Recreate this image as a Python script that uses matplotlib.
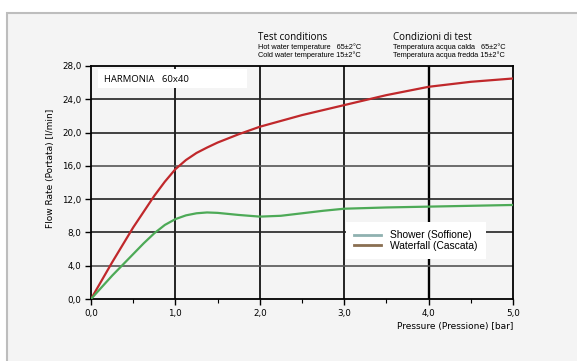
import matplotlib
matplotlib.use("Agg")
import matplotlib.pyplot as plt
from matplotlib.lines import Line2D
from matplotlib.patches import Rectangle

# Data
pressure_shower = [0.0, 0.25, 0.5, 0.625, 0.75, 0.875, 1.0, 1.125, 1.25, 1.375, 1.5, 1.75, 2.0, 2.25, 2.5, 2.75, 3.0, 3.5, 4.0, 4.5, 5.0]
flow_shower = [0.0, 2.8, 5.4, 6.7, 7.9, 8.9, 9.6, 10.05, 10.3, 10.4, 10.35, 10.1, 9.9, 10.0, 10.3, 10.6, 10.85, 11.0, 11.1, 11.2, 11.3]
pressure_waterfall = [0.0, 0.25, 0.5, 0.75, 0.875, 1.0, 1.125, 1.25, 1.375, 1.5, 1.75, 2.0, 2.25, 2.5, 2.75, 3.0, 3.25, 3.5, 3.75, 4.0, 4.5, 5.0]
flow_waterfall = [0.0, 4.4, 8.6, 12.4, 14.1, 15.6, 16.7, 17.55, 18.2, 18.8, 19.8, 20.7, 21.4, 22.1, 22.7, 23.3, 23.9, 24.5, 25.0, 25.5, 26.1, 26.5]
x_ticks = [0, 1, 2, 3, 4, 5]
y_ticks = [0, 4, 8, 12, 16, 20, 24, 28]
legend_labels = ["Shower (Soffione)", "Waterfall (Cascata)"]

BG = "#f4f4f4"
fig = plt.figure(figsize=(5.77, 3.61), dpi=100)
fig.patch.set_facecolor("white")
# panel background with gray border (top/left only visible)
fig.patches.append(Rectangle((7/577, -0.5), 3.0, 1 - 13/361 + 0.5, transform=fig.transFigure,
                             facecolor=BG, edgecolor="#bdbdbd", linewidth=1.5, zorder=-10))

ax = fig.add_axes([91/577, 1 - 299/361, (513 - 91)/577, (299 - 66)/361])
ax.set_facecolor(BG)
ax.set_xlim(0, 5)
ax.set_ylim(0, 28)

for xv in [1, 2, 3, 4]:
    ax.axvline(xv, color="black", lw=1.7 if xv == 4 else 1.2, zorder=1)
for yv in [4, 8, 12, 16, 20, 24]:
    ax.axhline(yv, color="#555555" if yv in (4, 16) else "#222222", lw=1.2, zorder=1)

ax.plot(pressure_waterfall, flow_waterfall, color="#c0282b", lw=1.6, zorder=3)
ax.plot(pressure_shower, flow_shower, color="#4daa57", lw=1.6, zorder=3)

for s in ax.spines.values():
    s.set_color("black")
    s.set_linewidth(1.3)

ax.set_xticks(x_ticks)
ax.set_xticks([0.5, 1.5, 2.5, 3.5, 4.5], minor=True)
ax.set_yticks(y_ticks)
ax.set_xticklabels([f"{v:.1f}".replace(".", ",") for v in x_ticks])
ax.set_yticklabels([f"{v:.1f}".replace(".", ",") for v in y_ticks])
ax.tick_params(axis="both", which="major", length=4, width=1, direction="out", labelsize=6.3, colors="black", pad=3)
ax.tick_params(axis="x", which="minor", length=3, width=0.8, direction="out")

ax.set_xlabel("Pressure (Pressione) [bar]", fontsize=6.5, family="DejaVu Sans", ha="right")
ax.xaxis.set_label_coords(1.0, -0.1)
ax.set_ylabel("Flow Rate (Portata) [l/min]", fontsize=6.5, family="DejaVu Sans")
ax.yaxis.set_label_coords(-0.085, 0.56)

# HARMONIA box
ax.add_patch(Rectangle((98/577, 1 - 88/361), (247 - 98)/577, 19/361, transform=fig.transFigure,
                       facecolor="white", edgecolor="none", zorder=4))
fig.text(104/577, 1 - 79/361, "HARMONIA   60x40", fontsize=6.8, family="Open Sans", va="center", zorder=5)

# Legend
handles = [Line2D([], [], color="#8fb1b0", lw=2), Line2D([], [], color="#8a6f52", lw=2)]
leg = ax.legend(handles, legend_labels, loc="upper left", bbox_to_anchor=(346/577, 1 - 222/361),
                bbox_transform=fig.transFigure, frameon=True, fancybox=False, fontsize=7.4,
                handlelength=2.6, handletextpad=0.9, labelspacing=0.05, borderpad=0.8, borderaxespad=0)
leg.get_frame().set_facecolor("white")
leg.get_frame().set_edgecolor("none")
leg.get_frame().set_alpha(1)
for t in leg.get_texts():
    t.set_family("Liberation Sans")

# Test conditions
fs_small = 5.3
fig.text(258/577, 1 - 37/361, "Test conditions", fontsize=7, family="Open Sans", va="center")
fig.text(258/577, 1 - 47/361, "Hot water temperature   65\u00b12\u00b0C", fontsize=fs_small, family="Liberation Sans", va="center")
fig.text(258/577, 1 - 55.5/361, "Cold water temperature 15\u00b12\u00b0C", fontsize=fs_small, family="Liberation Sans", va="center")
fig.text(393/577, 1 - 37/361, "Condizioni di test", fontsize=7, family="Open Sans", va="center")
fig.text(393/577, 1 - 47/361, "Temperatura acqua calda   65\u00b12\u00b0C", fontsize=fs_small, family="Liberation Sans", va="center")
fig.text(393/577, 1 - 55.5/361, "Temperatura acqua fredda 15\u00b12\u00b0C", fontsize=fs_small, family="Liberation Sans", va="center")

fig.savefig("out.png", dpi=100, facecolor=fig.get_facecolor())
